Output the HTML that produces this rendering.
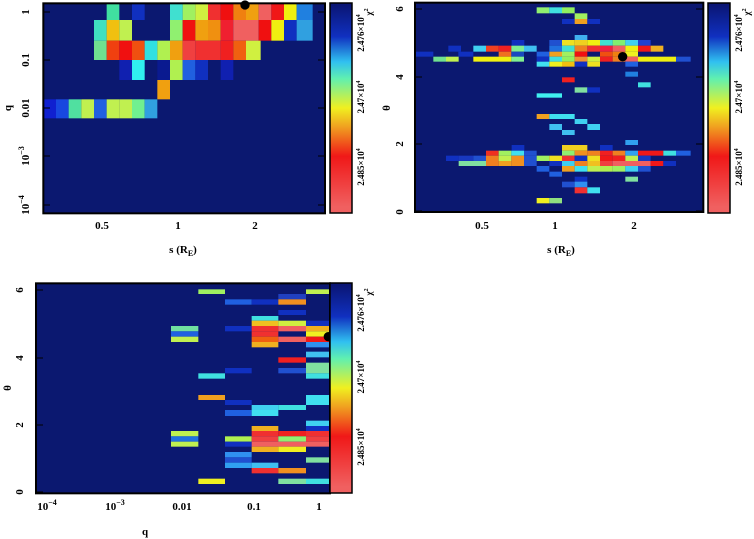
<!DOCTYPE html>
<html><head><meta charset="utf-8"><style>
body{margin:0;background:#fff;}
svg{display:block;}
text{font-family:"Liberation Serif",serif;font-weight:bold;fill:#000;}
</style></head><body>
<svg width="754" height="539" viewBox="0 0 754 539" xmlns="http://www.w3.org/2000/svg">
<defs>
<linearGradient id="cb" x1="0" y1="0" x2="0" y2="1">
<stop offset="0" stop-color="#0a1470"/>
<stop offset="0.16" stop-color="#1030c0"/>
<stop offset="0.28" stop-color="#30c0f0"/>
<stop offset="0.36" stop-color="#60f0b0"/>
<stop offset="0.50" stop-color="#f0f020"/>
<stop offset="0.59" stop-color="#f0a020"/>
<stop offset="0.73" stop-color="#f01818"/>
<stop offset="0.97" stop-color="#f06060"/>
<stop offset="1" stop-color="#f06060"/>
</linearGradient>
</defs>

<!-- PANEL 1 -->
<g transform="scale(0.33333)">
<rect x="130" y="10" width="845" height="630" fill="#0b1870"/>
<!-- row A -->
<g transform="translate(0,10)">
<rect x="320" width="38" height="50" fill="#40e0a0"/>
<rect x="396" width="38" height="50" fill="#1030c0"/>
<rect x="510" width="38" height="50" fill="#40e0d0"/>
<rect x="548" width="38" height="50" fill="#a0f060"/>
<rect x="586" width="38" height="50" fill="#d0f040"/>
<rect x="624" width="38" height="50" fill="#f03030"/>
<rect x="662" width="38" height="50" fill="#f01010"/>
<rect x="700" width="38" height="50" fill="#f08010"/>
<rect x="738" width="38" height="50" fill="#f0a010"/>
<rect x="776" width="38" height="50" fill="#f06060"/>
<rect x="814" width="38" height="50" fill="#f01818"/>
<rect x="852" width="38" height="50" fill="#f0f010"/>
<rect x="890" width="48" height="50" fill="#2080e0"/>
</g>
<g transform="translate(0,60)">
<rect x="282" width="38" height="62" fill="#40e0c0"/>
<rect x="320" width="38" height="62" fill="#f0c010"/>
<rect x="358" width="38" height="62" fill="#c0f050"/>
<rect x="510" width="38" height="62" fill="#90f070"/>
<rect x="548" width="38" height="62" fill="#f01010"/>
<rect x="586" width="38" height="62" fill="#f0a010"/>
<rect x="624" width="38" height="62" fill="#f09010"/>
<rect x="662" width="38" height="62" fill="#f02030"/>
<rect x="700" width="38" height="62" fill="#f06060"/>
<rect x="738" width="38" height="62" fill="#f06060"/>
<rect x="776" width="38" height="62" fill="#f01010"/>
<rect x="814" width="38" height="62" fill="#f0f010"/>
<rect x="852" width="38" height="62" fill="#1030c0"/>
<rect x="890" width="48" height="62" fill="#30a0e0"/>
</g>
<g transform="translate(0,122)">
<rect x="282" width="38" height="58" fill="#70e090"/>
<rect x="320" width="38" height="58" fill="#f04010"/>
<rect x="358" width="38" height="58" fill="#f01010"/>
<rect x="396" width="38" height="58" fill="#f05010"/>
<rect x="434" width="38" height="58" fill="#30e0e0"/>
<rect x="472" width="38" height="58" fill="#b0f050"/>
<rect x="510" width="38" height="58" fill="#f0a010"/>
<rect x="548" width="38" height="58" fill="#f04040"/>
<rect x="586" width="38" height="58" fill="#f03030"/>
<rect x="624" width="38" height="58" fill="#f03030"/>
<rect x="662" width="38" height="58" fill="#f02020"/>
<rect x="700" width="38" height="58" fill="#f06010"/>
<rect x="738" width="44" height="58" fill="#d0f040"/>
</g>
<g transform="translate(0,180)">
<rect x="358" width="38" height="60" fill="#1020b0"/>
<rect x="396" width="38" height="60" fill="#30f0f0"/>
<rect x="472" width="38" height="60" fill="#0a1a90"/>
<rect x="510" width="38" height="60" fill="#b0f050"/>
<rect x="548" width="38" height="60" fill="#2060e0"/>
<rect x="586" width="38" height="60" fill="#1030c0"/>
<rect x="662" width="38" height="60" fill="#1020b0"/>
</g>
<rect x="472" y="240" width="38" height="58" fill="#f0a010"/>
<g transform="translate(0,298)">
<rect x="130" width="38" height="57" fill="#1020d0"/>
<rect x="168" width="38" height="57" fill="#1848e0"/>
<rect x="206" width="38" height="57" fill="#50e0a0"/>
<rect x="244" width="38" height="57" fill="#c0f050"/>
<rect x="282" width="38" height="57" fill="#2060e0"/>
<rect x="320" width="38" height="57" fill="#c0f050"/>
<rect x="358" width="38" height="57" fill="#c0f050"/>
<rect x="396" width="38" height="57" fill="#70f090"/>
<rect x="434" width="38" height="57" fill="#30a0e0"/>
</g>
<rect x="130" y="10" width="845" height="630" fill="none" stroke="#000" stroke-width="6"/>
<circle cx="735" cy="15" r="14" fill="#000"/>
</g>
<!-- p1 ticks -->
<g stroke="#000" stroke-width="1">
<line x1="43" y1="12" x2="50" y2="12"/><line x1="43" y1="60" x2="50" y2="60"/><line x1="43" y1="108" x2="50" y2="108"/><line x1="43" y1="156" x2="50" y2="156"/><line x1="43" y1="205" x2="50" y2="205"/>
<line x1="318" y1="12" x2="325" y2="12"/><line x1="318" y1="60" x2="325" y2="60"/><line x1="318" y1="108" x2="325" y2="108"/><line x1="318" y1="156" x2="325" y2="156"/><line x1="318" y1="205" x2="325" y2="205"/>
</g>
<rect x="330" y="3" width="22" height="210" fill="url(#cb)" stroke="#000" stroke-width="1.5"/>
<g font-size="11">
<text x="102" y="229" text-anchor="middle">0.5</text>
<text x="178" y="229" text-anchor="middle">1</text>
<text x="255" y="229" text-anchor="middle">2</text>
<text x="183" y="253" text-anchor="middle">s (R<tspan font-size="8" dy="3">E</tspan><tspan dy="-3">)</tspan></text>
<text transform="translate(29,12) rotate(-90)" text-anchor="middle">1</text>
<text transform="translate(29,60) rotate(-90)" text-anchor="middle">0.1</text>
<text transform="translate(29,108) rotate(-90)" text-anchor="middle">0.01</text>
<text transform="translate(29,156) rotate(-90)" text-anchor="middle">10<tspan font-size="8" dy="-5">−3</tspan></text>
<text transform="translate(29,205) rotate(-90)" text-anchor="middle">10<tspan font-size="8" dy="-5">−4</tspan></text>
<text transform="translate(11,108) rotate(-90)" text-anchor="middle">q</text>
</g>
<g font-size="9">
<text transform="translate(364,33) rotate(-90)" text-anchor="middle">2.476×10<tspan font-size="6" dy="-4">4</tspan></text>
<text transform="translate(364,97) rotate(-90)" text-anchor="middle">2.47×10<tspan font-size="6" dy="-4">4</tspan></text>
<text transform="translate(364,167) rotate(-90)" text-anchor="middle">2.485×10<tspan font-size="6" dy="-4">4</tspan></text>
<text transform="translate(372,12) rotate(-90)" text-anchor="middle">χ<tspan font-size="6" dy="-4">2</tspan></text>
</g>

<!-- PANEL 2 -->
<g transform="translate(380,0) scale(0.33333)">
<rect x="105" y="8" width="865" height="628" fill="#0b1870"/>
<rect x="470" y="22" width="38" height="18" fill="#90f070"/><rect x="508" y="22" width="38" height="18" fill="#40e0e0"/><rect x="546" y="22" width="38" height="18" fill="#90f060"/>
<rect x="584" y="40" width="38" height="17" fill="#a0f060"/>
<rect x="546" y="57" width="38" height="15" fill="#1030c0"/><rect x="584" y="57" width="38" height="15" fill="#f0a020"/><rect x="622" y="57" width="38" height="15" fill="#1030c0"/>
<rect x="584" y="105" width="38" height="15" fill="#40b0f0"/>
<g transform="translate(0,120)">
<rect x="395" width="38" height="17" fill="#1030c0"/><rect x="508" width="38" height="17" fill="#2050d0"/><rect x="546" width="38" height="17" fill="#f0e020"/><rect x="584" width="38" height="17" fill="#f0d020"/><rect x="622" width="38" height="17" fill="#f0f010"/><rect x="660" width="38" height="17" fill="#40e0d0"/><rect x="698" width="38" height="17" fill="#80f070"/><rect x="736" width="38" height="17" fill="#40d0f0"/><rect x="774" width="38" height="17" fill="#2040d0"/>
</g>
<g transform="translate(0,137)">
<rect x="205" width="38" height="18" fill="#1030c0"/><rect x="280" width="38" height="18" fill="#40d0f0"/><rect x="318" width="38" height="18" fill="#f04020"/><rect x="356" width="38" height="18" fill="#f02020"/><rect x="394" width="38" height="18" fill="#80f090"/><rect x="432" width="38" height="18" fill="#40c0f0"/><rect x="508" width="38" height="18" fill="#2070e0"/><rect x="546" width="38" height="18" fill="#40e0d0"/><rect x="584" width="38" height="18" fill="#f08020"/><rect x="622" width="38" height="18" fill="#f03030"/><rect x="660" width="38" height="18" fill="#f02040"/><rect x="698" width="38" height="18" fill="#f06060"/><rect x="736" width="38" height="18" fill="#f0f010"/><rect x="774" width="38" height="18" fill="#f01818"/><rect x="812" width="38" height="18" fill="#f0b020"/>
</g>
<g transform="translate(0,155)">
<rect x="105" width="55" height="15" fill="#1030c0"/><rect x="235" width="45" height="15" fill="#1030c0"/><rect x="356" width="38" height="15" fill="#f07020"/><rect x="394" width="38" height="15" fill="#1848c0"/><rect x="470" width="38" height="15" fill="#2060e0"/><rect x="508" width="38" height="15" fill="#f0a020"/><rect x="546" width="38" height="15" fill="#a0f060"/><rect x="584" width="38" height="15" fill="#f01010"/><rect x="660" width="38" height="15" fill="#f05010"/><rect x="698" width="38" height="15" fill="#f08010"/><rect x="736" width="38" height="15" fill="#f0f020"/>
</g>
<g transform="translate(0,170)">
<rect x="160" width="38" height="15" fill="#70e090"/><rect x="198" width="38" height="15" fill="#c0f050"/><rect x="280" width="114" height="15" fill="#f0f010"/><rect x="394" width="38" height="15" fill="#80f090"/><rect x="470" width="38" height="15" fill="#1030c0"/><rect x="508" width="38" height="15" fill="#40e0e0"/><rect x="546" width="38" height="15" fill="#90f060"/><rect x="584" width="38" height="15" fill="#f09030"/><rect x="622" width="38" height="15" fill="#d0f040"/><rect x="660" width="38" height="15" fill="#f02020"/><rect x="698" width="38" height="15" fill="#f08020"/><rect x="736" width="38" height="15" fill="#f06060"/><rect x="774" width="114" height="15" fill="#f0f010"/><rect x="888" width="44" height="15" fill="#2050d0"/>
</g>
<g transform="translate(0,185)">
<rect x="470" width="38" height="15" fill="#40e0f0"/><rect x="508" width="38" height="15" fill="#f0f020"/><rect x="546" width="38" height="15" fill="#f0c010"/><rect x="584" width="38" height="15" fill="#1030c0"/><rect x="622" width="38" height="15" fill="#f0e020"/><rect x="736" width="38" height="15" fill="#2060e0"/>
</g>
<rect x="736" y="215" width="38" height="15" fill="#2080e0"/>
<rect x="546" y="232" width="38" height="15" fill="#f02020"/>
<rect x="774" y="247" width="38" height="15" fill="#40e0e0"/>
<rect x="584" y="262" width="38" height="16" fill="#80e0a0"/><rect x="622" y="262" width="38" height="16" fill="#1030c0"/>
<rect x="470" y="280" width="76" height="13" fill="#40f0f0"/>
<rect x="470" y="342" width="38" height="15" fill="#f0a020"/><rect x="508" y="342" width="76" height="15" fill="#40e0f0"/>
<rect x="584" y="357" width="38" height="15" fill="#40d0f0"/>
<rect x="508" y="372" width="38" height="18" fill="#40c0f0"/><rect x="622" y="372" width="38" height="18" fill="#40d0f0"/>
<rect x="546" y="390" width="38" height="15" fill="#40c0f0"/>
<rect x="736" y="420" width="38" height="15" fill="#30a0f0"/>
<rect x="395" y="435" width="38" height="17" fill="#1030c0"/><rect x="546" y="435" width="76" height="17" fill="#f0d020"/><rect x="660" y="435" width="38" height="17" fill="#1030c0"/>
<g transform="translate(0,452)">
<rect x="318" width="38" height="15" fill="#f03020"/><rect x="356" width="38" height="15" fill="#a0f060"/><rect x="394" width="38" height="15" fill="#40e0f0"/><rect x="432" width="38" height="15" fill="#2050d0"/><rect x="546" width="38" height="15" fill="#90f070"/><rect x="584" width="38" height="15" fill="#f09020"/><rect x="622" width="38" height="15" fill="#f08020"/><rect x="660" width="38" height="15" fill="#f02020"/><rect x="698" width="38" height="15" fill="#f08020"/><rect x="736" width="38" height="15" fill="#30a0f0"/><rect x="774" width="76" height="15" fill="#f01818"/><rect x="850" width="38" height="15" fill="#40e0e0"/><rect x="888" width="44" height="15" fill="#2060e0"/>
</g>
<g transform="translate(0,467)">
<rect x="198" width="38" height="16" fill="#1030c0"/><rect x="236" width="44" height="16" fill="#1838c0"/><rect x="280" width="38" height="16" fill="#2050d0"/><rect x="318" width="38" height="16" fill="#f08020"/><rect x="356" width="38" height="16" fill="#c0f050"/><rect x="394" width="38" height="16" fill="#f09020"/><rect x="432" width="38" height="16" fill="#2050d0"/><rect x="470" width="38" height="16" fill="#a0f060"/><rect x="508" width="38" height="16" fill="#f0e020"/><rect x="546" width="38" height="16" fill="#f03030"/><rect x="584" width="38" height="16" fill="#1030c0"/><rect x="622" width="38" height="16" fill="#f0e020"/><rect x="660" width="38" height="16" fill="#f01818"/><rect x="698" width="38" height="16" fill="#f02020"/><rect x="736" width="38" height="16" fill="#c0f050"/><rect x="774" width="38" height="16" fill="#1838c0"/>
</g>
<g transform="translate(0,483)">
<rect x="236" width="82" height="15" fill="#80e0a0"/><rect x="318" width="38" height="15" fill="#f08020"/><rect x="356" width="38" height="15" fill="#f0a020"/><rect x="394" width="38" height="15" fill="#f09020"/><rect x="432" width="38" height="15" fill="#2050d0"/><rect x="508" width="38" height="15" fill="#1030c0"/><rect x="546" width="38" height="15" fill="#40d0f0"/><rect x="584" width="38" height="15" fill="#f08020"/><rect x="622" width="38" height="15" fill="#f0c020"/><rect x="660" width="38" height="15" fill="#f04040"/><rect x="698" width="114" height="15" fill="#f06060"/><rect x="812" width="38" height="15" fill="#f01818"/><rect x="850" width="38" height="15" fill="#1030c0"/>
</g>
<g transform="translate(0,498)">
<rect x="470" width="38" height="17" fill="#2060e0"/><rect x="546" width="38" height="17" fill="#f0a020"/><rect x="584" width="38" height="17" fill="#40e0f0"/><rect x="622" width="38" height="17" fill="#c0f050"/><rect x="660" width="38" height="17" fill="#b0f050"/><rect x="698" width="38" height="17" fill="#a0f060"/><rect x="736" width="38" height="17" fill="#40d0f0"/><rect x="774" width="38" height="17" fill="#2050d0"/>
</g>
<rect x="508" y="515" width="38" height="15" fill="#2060e0"/>
<rect x="584" y="530" width="38" height="15" fill="#1030c0"/><rect x="736" y="530" width="38" height="15" fill="#80e0a0"/>
<rect x="546" y="545" width="38" height="17" fill="#2050d0"/><rect x="584" y="545" width="38" height="17" fill="#3090f0"/>
<rect x="584" y="562" width="38" height="18" fill="#f03030"/><rect x="622" y="562" width="38" height="18" fill="#40e0f0"/>
<rect x="470" y="594" width="38" height="16" fill="#f0f020"/><rect x="508" y="594" width="38" height="16" fill="#90e080"/>
<rect x="105" y="8" width="865" height="628" fill="none" stroke="#000" stroke-width="6"/>
<circle cx="728" cy="170" r="14" fill="#000"/>
</g>
<g stroke="#000" stroke-width="1">
<line x1="415" y1="9" x2="422" y2="9"/><line x1="415" y1="77" x2="422" y2="77"/><line x1="415" y1="144" x2="422" y2="144"/><line x1="415" y1="211" x2="422" y2="211"/>
<line x1="696" y1="9" x2="703" y2="9"/><line x1="696" y1="77" x2="703" y2="77"/><line x1="696" y1="144" x2="703" y2="144"/><line x1="696" y1="211" x2="703" y2="211"/>
</g>
<rect x="708" y="3" width="22" height="210" fill="url(#cb)" stroke="#000" stroke-width="1.5"/>
<g font-size="11">
<text x="482" y="229" text-anchor="middle">0.5</text>
<text x="555" y="229" text-anchor="middle">1</text>
<text x="634" y="229" text-anchor="middle">2</text>
<text x="561" y="253" text-anchor="middle">s (R<tspan font-size="8" dy="3">E</tspan><tspan dy="-3">)</tspan></text>
<text transform="translate(403,212) rotate(-90)" text-anchor="middle">0</text>
<text transform="translate(403,144) rotate(-90)" text-anchor="middle">2</text>
<text transform="translate(403,77) rotate(-90)" text-anchor="middle">4</text>
<text transform="translate(403,9) rotate(-90)" text-anchor="middle">6</text>
<text transform="translate(390,108) rotate(-90)" text-anchor="middle">θ</text>
</g>
<g font-size="9">
<text transform="translate(742,33) rotate(-90)" text-anchor="middle">2.476×10<tspan font-size="6" dy="-4">4</tspan></text>
<text transform="translate(742,97) rotate(-90)" text-anchor="middle">2.47×10<tspan font-size="6" dy="-4">4</tspan></text>
<text transform="translate(742,167) rotate(-90)" text-anchor="middle">2.485×10<tspan font-size="6" dy="-4">4</tspan></text>
<text transform="translate(750,12) rotate(-90)" text-anchor="middle">χ<tspan font-size="6" dy="-4">2</tspan></text>
</g>

<!-- PANEL 3 -->
<g transform="translate(0,280) scale(0.33333)">
<rect x="108" y="10" width="882" height="630" fill="#0b1870"/>
<rect x="595" y="28" width="80" height="14" fill="#a0f060"/><rect x="918" y="28" width="74" height="14" fill="#c0f050"/>
<rect x="835" y="42" width="83" height="16" fill="#2040c0"/>
<rect x="675" y="58" width="80" height="16" fill="#2060e0"/><rect x="755" y="58" width="80" height="16" fill="#1030c0"/><rect x="835" y="58" width="83" height="16" fill="#f09020"/>
<rect x="835" y="90" width="83" height="15" fill="#1030c0"/>
<rect x="755" y="108" width="80" height="14" fill="#40e0e0"/>
<rect x="755" y="122" width="80" height="16" fill="#f0c020"/><rect x="835" y="122" width="83" height="16" fill="#d0f040"/><rect x="918" y="122" width="74" height="16" fill="#1030c0"/>
<rect x="513" y="138" width="82" height="16" fill="#70e0a0"/><rect x="675" y="138" width="80" height="16" fill="#1030c0"/><rect x="755" y="138" width="80" height="16" fill="#f03030"/><rect x="835" y="138" width="83" height="16" fill="#f06060"/><rect x="918" y="138" width="74" height="16" fill="#f0b020"/>
<rect x="513" y="154" width="82" height="16" fill="#2060e0"/><rect x="755" y="154" width="80" height="16" fill="#f03030"/><rect x="918" y="154" width="74" height="16" fill="#f0f020"/>
<rect x="513" y="170" width="82" height="16" fill="#c0f050"/><rect x="755" y="170" width="80" height="16" fill="#f06010"/><rect x="835" y="170" width="83" height="16" fill="#f06060"/><rect x="918" y="170" width="74" height="16" fill="#f01818"/>
<rect x="755" y="186" width="80" height="16" fill="#f0b020"/><rect x="918" y="186" width="74" height="16" fill="#3090f0"/>
<rect x="918" y="215" width="74" height="17" fill="#40c0f0"/>
<rect x="835" y="232" width="83" height="16" fill="#f02020"/>
<rect x="918" y="248" width="74" height="16" fill="#80e0a0"/>
<rect x="675" y="264" width="80" height="16" fill="#1030c0"/><rect x="835" y="264" width="83" height="16" fill="#2050d0"/><rect x="918" y="264" width="74" height="16" fill="#80e0a0"/>
<rect x="595" y="280" width="80" height="16" fill="#40e0e0"/><rect x="918" y="280" width="74" height="16" fill="#40e0e0"/>
<rect x="595" y="345" width="80" height="15" fill="#f0a020"/><rect x="918" y="345" width="74" height="30" fill="#40e0f0"/>
<rect x="675" y="360" width="80" height="15" fill="#1030c0"/>
<rect x="755" y="375" width="80" height="15" fill="#40d0f0"/><rect x="835" y="375" width="83" height="15" fill="#40e0e0"/>
<rect x="675" y="390" width="80" height="18" fill="#2060e0"/><rect x="755" y="390" width="80" height="18" fill="#40e0f0"/>
<rect x="918" y="422" width="74" height="16" fill="#40d0f0"/>
<rect x="755" y="438" width="80" height="15" fill="#f0b020"/><rect x="918" y="438" width="74" height="15" fill="#1030c0"/>
<rect x="513" y="453" width="82" height="16" fill="#c0f050"/><rect x="755" y="453" width="80" height="16" fill="#f03030"/><rect x="835" y="453" width="83" height="16" fill="#f02020"/><rect x="918" y="453" width="74" height="16" fill="#f03030"/>
<rect x="513" y="469" width="82" height="16" fill="#2070e0"/><rect x="675" y="469" width="80" height="16" fill="#b0f050"/><rect x="755" y="469" width="80" height="16" fill="#f04040"/><rect x="835" y="469" width="83" height="16" fill="#90f070"/><rect x="918" y="469" width="74" height="16" fill="#f04040"/>
<rect x="513" y="485" width="82" height="15" fill="#c0f050"/><rect x="675" y="485" width="80" height="15" fill="#1030c0"/><rect x="755" y="485" width="237" height="15" fill="#f06060"/>
<rect x="755" y="500" width="80" height="16" fill="#f0b020"/><rect x="835" y="500" width="83" height="16" fill="#f0f020"/>
<rect x="675" y="516" width="80" height="16" fill="#3090f0"/>
<rect x="675" y="532" width="80" height="16" fill="#2050d0"/><rect x="918" y="532" width="74" height="16" fill="#80e0a0"/>
<rect x="675" y="548" width="80" height="16" fill="#30a0f0"/><rect x="755" y="548" width="80" height="16" fill="#40c0f0"/>
<rect x="755" y="564" width="80" height="16" fill="#f03030"/><rect x="835" y="564" width="83" height="16" fill="#f09020"/>
<rect x="595" y="596" width="80" height="16" fill="#f0f020"/><rect x="835" y="596" width="83" height="16" fill="#80e0a0"/><rect x="918" y="596" width="74" height="16" fill="#40e0e0"/>
<rect x="108" y="10" width="882" height="630" fill="none" stroke="#000" stroke-width="6"/>
<circle cx="985" cy="170" r="14" fill="#000"/>
</g>
<g stroke="#000" stroke-width="1">
<line x1="36" y1="290" x2="43" y2="290"/><line x1="36" y1="358" x2="43" y2="358"/><line x1="36" y1="425" x2="43" y2="425"/><line x1="36" y1="492" x2="43" y2="492"/>
</g>
<rect x="330" y="283" width="22" height="210" fill="url(#cb)" stroke="#000" stroke-width="1.5"/>
<g font-size="11">
<text x="47" y="510" text-anchor="middle">10<tspan font-size="8" dy="-5">−4</tspan></text>
<text x="115" y="510" text-anchor="middle">10<tspan font-size="8" dy="-5">−3</tspan></text>
<text x="182" y="510" text-anchor="middle">0.01</text>
<text x="254" y="510" text-anchor="middle">0.1</text>
<text x="319" y="510" text-anchor="middle">1</text>
<text x="145" y="535" text-anchor="middle">q</text>
<text transform="translate(23,492) rotate(-90)" text-anchor="middle">0</text>
<text transform="translate(23,425) rotate(-90)" text-anchor="middle">2</text>
<text transform="translate(23,358) rotate(-90)" text-anchor="middle">4</text>
<text transform="translate(23,290) rotate(-90)" text-anchor="middle">6</text>
<text transform="translate(11,388) rotate(-90)" text-anchor="middle">θ</text>
</g>
<g font-size="9">
<text transform="translate(364,313) rotate(-90)" text-anchor="middle">2.476×10<tspan font-size="6" dy="-4">4</tspan></text>
<text transform="translate(364,377) rotate(-90)" text-anchor="middle">2.47×10<tspan font-size="6" dy="-4">4</tspan></text>
<text transform="translate(364,447) rotate(-90)" text-anchor="middle">2.485×10<tspan font-size="6" dy="-4">4</tspan></text>
<text transform="translate(372,292) rotate(-90)" text-anchor="middle">χ<tspan font-size="6" dy="-4">2</tspan></text>
</g>
</svg>
</body></html>
